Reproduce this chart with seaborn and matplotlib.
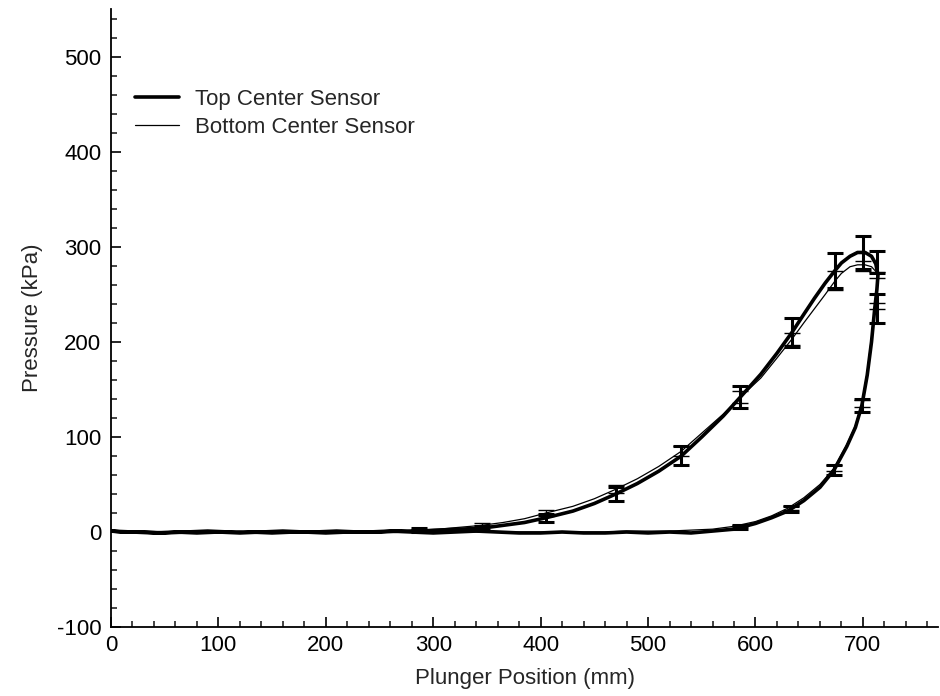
import matplotlib
matplotlib.use("Agg")
import matplotlib.pyplot as plt
from matplotlib.ticker import MultipleLocator
import pandas as pd
import seaborn as sns

# loading branch (position increasing), then unloading branch (decreasing)
load_x = [0, 20, 40, 60, 80, 100, 120, 140, 160, 180, 200, 220, 240, 260, 280,
          300, 320, 340, 360, 380, 400, 420, 440, 460, 480, 500, 520, 540, 560,
          580, 600, 615, 630, 645, 660, 673, 685, 693, 699, 704, 708, 711, 713, 714]
top_load_y = [1, 0, -1, 0, -1, 0, -1, 0, 1, 0, -1, 0, 0, 1, 0,
              -1, 0, 1, 0, -1, -1, 0, -1, -1, 0, -1, 0, -1, 1,
              3, 9, 15, 22, 33, 47, 65, 90, 110, 133, 165, 200, 235, 255, 270]
bot_load_y = [0, 0, 0, 0, 0, 0, 0, 0, 0, 0, 0, 0, 0, 0, 0,
              0, 0, 0, 0, 0, 0, 0, 0, 0, 1, 1, 1, 2, 3,
              6, 11, 17, 25, 36, 50, 67, 92, 112, 135, 168, 205, 238, 258, 266]

unload_x = [714, 712, 708, 702, 695, 688, 680, 674, 665, 655, 645, 634, 620, 605,
            586, 570, 550, 531, 510, 490, 470, 450, 430, 405, 385, 365, 345, 325,
            305, 287, 270, 250, 230, 210, 190, 170, 150, 130, 110, 90, 70, 50, 30, 10, 0]
top_unload_y = [270, 282, 290, 294, 294, 290, 283, 275, 262, 246, 229, 210, 188, 166,
                142, 122, 100, 80, 64, 51, 40, 30, 22, 15, 10, 7, 4, 3,
                2, 1, 1, 0, 0, 1, 0, 0, -1, 0, 0, 1, 0, -1, 0, 0, 1]
bot_unload_y = [266, 274, 279, 281, 281, 279, 272, 264, 250, 235, 220, 203, 183, 162,
                142, 124, 104, 85, 69, 56, 45, 35, 27, 20, 14, 10, 7, 5,
                3, 2, 1, 1, 0, 0, 0, 1, 0, 0, -1, 0, 0, 0, 1, 0, 0]

# error bars
eb_x = [287, 345, 405, 470, 531, 586, 634, 674, 700, 713, 713, 699, 673, 633, 586]
eb_top_y = [2, 4, 15, 40, 80, 142, 210, 275, 294, 284, 235, 133, 65, 24, 5]
eb_top_err = [2, 2, 4, 7, 10, 12, 15, 18, 17, 12, 15, 7, 5, 3, 2]
eb_bot_y = [2, 7, 20, 45, 85, 142, 203, 264, 280, 270, 238, 135, 67, 25, 6]
eb_bot_err = [1, 2, 3, 4, 5, 6, 6, 10, 5, 3, 3, 4, 3, 2, 1]

labels = ["Top Center Sensor", "Bottom Center Sensor"]

sns.set_theme(style="ticks")
plt.rcParams["font.family"] = ["Liberation Sans", "DejaVu Sans"]
plt.rcParams["axes.unicode_minus"] = False

fig = plt.figure(figsize=(9.4, 6.96), dpi=100)
ax = fig.add_axes([0.118, 0.099, 0.880, 0.888])

top = pd.DataFrame({"x": load_x + unload_x, "y": top_load_y + top_unload_y})
bot = pd.DataFrame({"x": load_x + unload_x, "y": bot_load_y + bot_unload_y})

sns.lineplot(data=top, x="x", y="y", sort=False, estimator=None, color="black",
             lw=2.6, ax=ax, label=labels[0])
sns.lineplot(data=bot, x="x", y="y", sort=False, estimator=None, color="black",
             lw=0.9, ax=ax, label=labels[1])

ax.errorbar(eb_x, eb_top_y, yerr=eb_top_err, fmt="none", ecolor="black",
            elinewidth=2.2, capsize=6, capthick=2.2)
ax.errorbar(eb_x, eb_bot_y, yerr=eb_bot_err, fmt="none", ecolor="black",
            elinewidth=1.0, capsize=6, capthick=1.0)

ax.set_xlim(0, 770)
ax.set_ylim(-100, 550)
ax.xaxis.set_major_locator(MultipleLocator(100))
ax.xaxis.set_minor_locator(MultipleLocator(20))
ax.yaxis.set_major_locator(MultipleLocator(100))
ax.yaxis.set_minor_locator(MultipleLocator(20))
ax.tick_params(which="major", direction="in", length=7, width=1.2, labelsize=16,
               colors="black")
ax.tick_params(axis="y", which="major", pad=7)
ax.tick_params(axis="x", which="major", pad=6)
ax.tick_params(which="minor", direction="in", length=4.3, width=1.2)

for s in ["top", "right"]:
    ax.spines[s].set_visible(False)
for s in ["left", "bottom"]:
    ax.spines[s].set_linewidth(1.3)
    ax.spines[s].set_color("black")

ax.set_xlabel("Plunger Position (mm)", fontsize=16, labelpad=8)
ax.set_ylabel("Pressure (kPa)", fontsize=16, labelpad=10)

ax.legend(loc="upper left", bbox_to_anchor=(0.018, 0.885), frameon=False,
          fontsize=16, handlelength=2.0, handletextpad=0.7, labelspacing=0.3,
          borderaxespad=0)

fig.savefig("out.png", dpi=100)
